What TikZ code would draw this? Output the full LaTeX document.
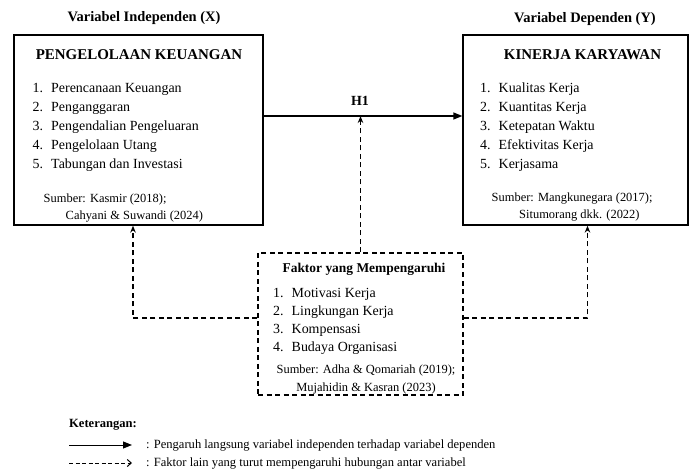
\documentclass[tikz,border=0pt]{standalone}
\usepackage{fontspec}
\setmainfont{Liberation Serif}
\usepackage{xcolor}
\usetikzlibrary{positioning, calc, arrows.meta}
\tikzset{% gaya kotak dan panah
	varbox/.style={draw, line width=1.3pt, minimum height=190bp, inner sep=0pt},
	faktorbox/.style={draw, line width=1.2pt, dash pattern=on 5bp off 3.5bp, minimum width=205bp, minimum height=142bp, inner sep=0pt},
	solidarrow/.style={-{Triangle[length=9bp,width=7bp]}, line width=1.3pt},
	dasharrow/.style={-{Stealth[length=7bp,width=5.5bp]}, line width=1.2pt, dash pattern=on 5bp off 3.5bp},
	legdash/.style={-{Straight Barb[length=4bp,width=7bp]}, line width=1pt, dash pattern=on 4bp off 2.5bp},
	vartitle/.style={font=\fontsize{14.5}{17}\selectfont\bfseries, inner sep=0pt},
	boxtitle/.style={font=\fontsize{15}{18}\selectfont\bfseries, inner sep=0pt},
	itemlist/.style={font=\fontsize{14}{19.2}\selectfont, align=left, anchor=north west, inner sep=0pt},
	sumber/.style={font=\fontsize{12.5}{17}\selectfont, inner sep=0pt},
	legtext/.style={font=\fontsize{12.6}{14}\selectfont, anchor=west, inner sep=0pt},
}
\newcommand{\nomor}[1]{\makebox[18.5bp][l]{#1}}

\begin{document}
\begin{tikzpicture}[x=1bp, y=-1bp]
				\useasboundingbox (0,0) rectangle (689,475);
				
				% variabel X dan Y
				\node[varbox, minimum width=249bp] (kx) at (138.5,130) {};
				\node[varbox, minimum width=225bp] (ky) at (575.5,130) {};
				\node[faktorbox] (fk) at (360.5,324) {};
				
				\node[vartitle] (tx) at (144,18) {Variabel Independen (X)};
				\node[vartitle] (ty) at (585,19) {Variabel Dependen (Y)};
				
				\node[boxtitle] (nx) at (139,55) {PENGELOLAAN KEUANGAN};
				\node[boxtitle] (ny) at (582.5,55) {KINERJA KARYAWAN};
				
				\node[itemlist] (lx) at (32.5,83) {%
					\nomor{1.}Perencanaan Keuangan\\
					\nomor{2.}Penganggaran\\
					\nomor{3.}Pengendalian Pengeluaran\\
					\nomor{4.}Pengelolaan Utang\\
					\nomor{5.}Tabungan dan Investasi};
				\node[itemlist] (ly) at (480,82.5) {%
					\nomor{1.}Kualitas Kerja\\
					\nomor{2.}Kuantitas Kerja\\
					\nomor{3.}Ketepatan Waktu\\
					\nomor{4.}Efektivitas Kerja\\
					\nomor{5.}Kerjasama};
				
				\node[sumber, align=left, anchor=north west] (sx) at (43.5,193.5)
				{Sumber: Kasmir (2018);\\\hspace*{22bp}Cahyani \& Suwandi (2024)};
				\node[sumber, align=left, anchor=north west] (sy) at (491.5,193)
				{Sumber: Mangkunegara (2017);\\\hspace*{27.5bp}Situmorang dkk. (2022)};
				
				% faktor yang mempengaruhi
				\node[boxtitle, font=\fontsize{13.5}{16}\selectfont\bfseries] (nf) at (364,269) {Faktor yang Mempengaruhi};
				\node[itemlist, font=\fontsize{14}{18}\selectfont] (lf) at (273,288) {%
					\nomor{1.}Motivasi Kerja\\
					\nomor{2.}Lingkungan Kerja\\
					\nomor{3.}Kompensasi\\
					\nomor{4.}Budaya Organisasi};
				\node[sumber, align=center, anchor=north, font=\fontsize{12.5}{17.5}\selectfont] (sf) at (366,365)
				{Sumber: Adha \& Qomariah (2019);\\Mujahidin \& Kasran (2023)};
				
				% hubungan
				\draw[solidarrow] ([yshift=14bp]kx.east) -- coordinate (hmid) ([yshift=14bp]ky.west);
				\node[vartitle, font=\fontsize{14}{17}\selectfont\bfseries] (h1) at (360,101) {H1};
				\draw[dasharrow] (fk.north) -- (fk.north |- hmid);
				\draw[dasharrow] ([yshift=6bp]fk.west) -| ([xshift=-5.5bp]kx.south);
				\draw[dasharrow] ([yshift=6bp]fk.east) -| ([xshift=12bp]ky.south);
				
				% keterangan
				\node[legtext, font=\fontsize{12.6}{14}\selectfont\bfseries] (ket) at (69,425) {Keterangan:};
				\coordinate (a1) at (69,445);
				\coordinate (a2) at (132,445);
				\coordinate (b1) at (69,463);
				\coordinate (b2) at (132,463);
				\draw[solidarrow, line width=1pt] (a1) -- (a2);
				\draw[legdash] (b1) -- (b2);
				\node[legtext] (k1) at (146,445) {: Pengaruh langsung variabel independen terhadap variabel dependen};
				\node[legtext] (k2) at (146,463) {: Faktor lain yang turut mempengaruhi hubungan antar variabel};
\end{tikzpicture}
\end{document}
